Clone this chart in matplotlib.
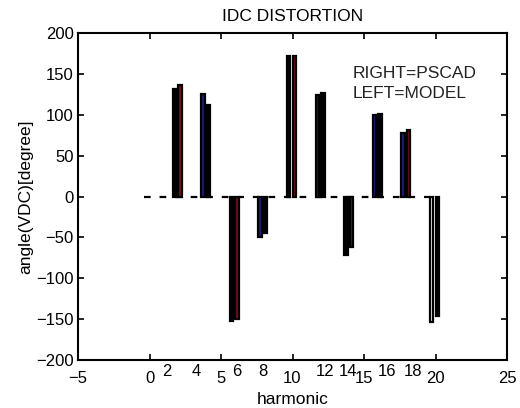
import matplotlib.pyplot as plt
import numpy as np

# harmonic orders and phase angles
harmonics = np.array([2, 4, 6, 8, 10, 12, 14, 16, 18, 20])
model_angle = [131, 125, -152, -49, 172, 124, -71, 100, 78, -153]
pscad_angle = [136, 112, -150, -44, 172, 127, -62, 101, 81, -146]
model_colors = ["black", "#1a1a8c", "black", "#1a1a8c", "black",
                "#1a1a8c", "black", "#1a1a8c", "#1a1a8c", "white"]
pscad_colors = ["#7a1010", "black", "#7a1010", "black", "#7a1010",
                "black", "#7a1010", "black", "#7a1010", "black"]

# dashed zero line span
zero_line_x = [-0.4, 19.6]

# extra labels scattered along the axis in the original
extra_labels = ["2", "4", "6", "8", "12", "14", "16", "18"]
extra_label_x = [1.2, 3.3, 6.1, 7.9, 12.3, 13.9, 16.6, 18.4]

plt.rcParams["font.family"] = ["Liberation Sans", "DejaVu Sans"]
fs = 12.5

fig = plt.figure(figsize=(5.2, 4.08), dpi=100)
ax = fig.add_axes([0.15, 0.1176, 0.825, 0.8014])

ax.plot(zero_line_x, [0, 0], color="black", lw=1.6,
        linestyle=(0, (3, 4)), zorder=1)

w = 0.24
ax.bar(harmonics - 0.27, model_angle, width=w, color=model_colors,
       edgecolor="black", linewidth=1.6, zorder=2)
ax.bar(harmonics + 0.13, pscad_angle, width=w, color=pscad_colors,
       edgecolor="black", linewidth=1.6, zorder=2)

ax.text(14.2, 151, "RIGHT=PSCAD", fontsize=fs, va="center", color="#222222")
ax.text(14.2, 126, "LEFT=MODEL", fontsize=fs, va="center", color="#222222")

ax.set_xlim(-5, 25)
ax.set_ylim(-200, 200)
ax.set_xticks(np.arange(-5, 26, 5))
ax.set_yticks(np.arange(-200, 201, 50))
ax.tick_params(direction="in", top=True, right=True, length=4, width=1.2,
               labelsize=12)
ax.tick_params(axis="x", pad=8)
ax.tick_params(axis="y", pad=3)
for s in ax.spines.values():
    s.set_linewidth(1.5)

for lab, xv in zip(extra_labels, extra_label_x):
    ax.text(xv, -0.011, lab, transform=ax.get_xaxis_transform(), fontsize=12,
            ha="center", va="top")

ax.set_title("IDC DISTORTION", fontsize=fs, pad=9)
ax.set_xlabel("harmonic", fontsize=fs, labelpad=4)
ax.set_ylabel("angle(VDC)[degree]", fontsize=fs, labelpad=2)

fig.savefig("out.png", dpi=100)
